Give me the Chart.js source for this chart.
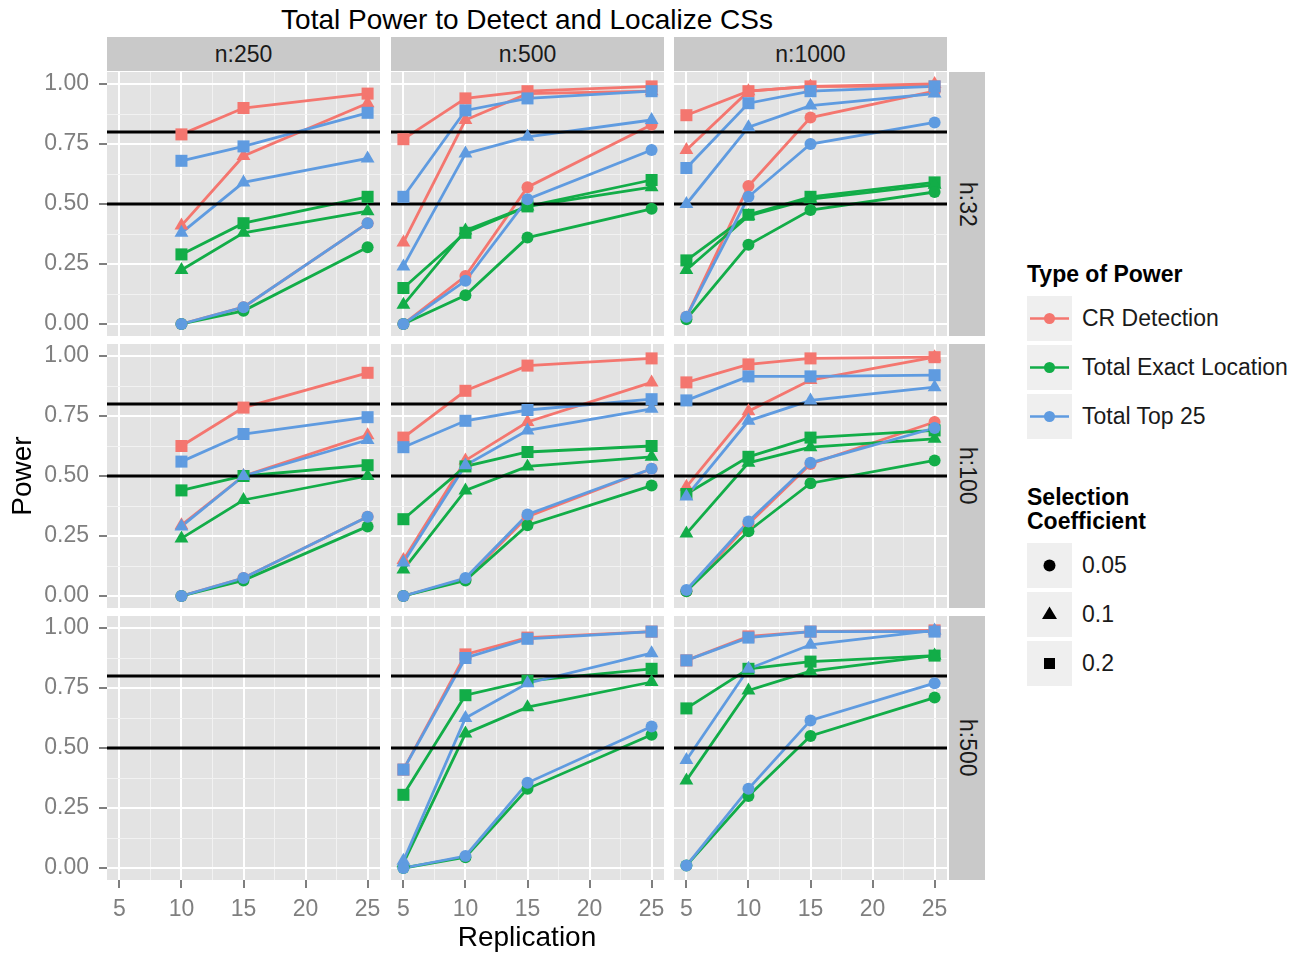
<!DOCTYPE html>
<html>
<head>
<meta charset="utf-8">
<script src="https://cdn.jsdelivr.net/npm/chart.js@4.4.0/dist/chart.umd.min.js"></script>
<style>
  body { margin: 0; background: #ffffff; }
  #root { position: relative; width: 1300px; height: 953px; overflow: hidden; background: #ffffff;
          font-family: "Liberation Sans", Arial, sans-serif; color: #000; }
  .txt { position: absolute; white-space: nowrap; }
  .strip { position: absolute; background: #C9C9C9; color: #1A1A1A; font-size: 23px;
           display: flex; align-items: center; justify-content: center; }
  .vstrip span { writing-mode: vertical-rl; }
  .key { position: absolute; width: 45px; height: 45px; background: #EFEFEF; }
  .klab { position: absolute; height: 45px; display: flex; align-items: center; font-size: 23px; color: #1A1A1A; }
  .ltitle { position: absolute; font-size: 23px; font-weight: bold; line-height: 24px; color: #000; }
</style>
</head>
<body>
<div id="root"></div>
<script>
// ---------------- data ----------------
const COLUMNS = ['n:250', 'n:500', 'n:1000'];
const ROWS = ['h:32', 'h:100', 'h:500'];
const TYPES = ['CR Detection', 'Total Exact Location', 'Total Top 25'];
const COEFS = ['0.05', '0.1', '0.2'];
const REP_N250 = [10, 15, 25];
const REP = [5, 10, 15, 25];
const X_MAJOR = [5, 10, 15, 20, 25];
const Y_MAJOR = [0, 0.25, 0.5, 0.75, 1];
const THRESHOLDS = [0.5, 0.8];

// h:32, n:250
const h32_n250_cr_05 = [0.00, 0.07, 0.42];
const h32_n250_cr_10 = [0.41, 0.70, 0.92];
const h32_n250_cr_20 = [0.79, 0.90, 0.96];
const h32_n250_ex_05 = [0.00, 0.055, 0.32];
const h32_n250_ex_10 = [0.225, 0.38, 0.47];
const h32_n250_ex_20 = [0.29, 0.42, 0.53];
const h32_n250_t25_05 = [0.00, 0.07, 0.42];
const h32_n250_t25_10 = [0.38, 0.59, 0.69];
const h32_n250_t25_20 = [0.68, 0.74, 0.88];
// h:32, n:500
const h32_n500_cr_05 = [0.00, 0.20, 0.57, 0.83];
const h32_n500_cr_10 = [0.34, 0.85, 0.96, 0.97];
const h32_n500_cr_20 = [0.77, 0.94, 0.97, 0.99];
const h32_n500_ex_05 = [0.00, 0.12, 0.36, 0.48];
const h32_n500_ex_10 = [0.08, 0.39, 0.49, 0.57];
const h32_n500_ex_20 = [0.15, 0.38, 0.49, 0.60];
const h32_n500_t25_05 = [0.00, 0.18, 0.52, 0.725];
const h32_n500_t25_10 = [0.24, 0.71, 0.78, 0.85];
const h32_n500_t25_20 = [0.53, 0.89, 0.94, 0.97];
// h:32, n:1000
const h32_n1000_cr_05 = [0.03, 0.575, 0.86, 0.97];
const h32_n1000_cr_10 = [0.725, 0.97, 0.99, 1.00];
const h32_n1000_cr_20 = [0.87, 0.97, 0.99, 0.99];
const h32_n1000_ex_05 = [0.02, 0.33, 0.475, 0.55];
const h32_n1000_ex_10 = [0.225, 0.45, 0.52, 0.58];
const h32_n1000_ex_20 = [0.265, 0.455, 0.53, 0.59];
const h32_n1000_t25_05 = [0.03, 0.53, 0.75, 0.84];
const h32_n1000_t25_10 = [0.50, 0.82, 0.91, 0.96];
const h32_n1000_t25_20 = [0.65, 0.92, 0.97, 0.99];
// h:100, n:250
const h100_n250_cr_05 = [0.00, 0.075, 0.33];
const h100_n250_cr_10 = [0.295, 0.50, 0.67];
const h100_n250_cr_20 = [0.625, 0.785, 0.93];
const h100_n250_ex_05 = [0.00, 0.065, 0.29];
const h100_n250_ex_10 = [0.24, 0.40, 0.50];
const h100_n250_ex_20 = [0.44, 0.50, 0.545];
const h100_n250_t25_05 = [0.00, 0.075, 0.33];
const h100_n250_t25_10 = [0.29, 0.50, 0.65];
const h100_n250_t25_20 = [0.56, 0.675, 0.745];
// h:100, n:500
const h100_n500_cr_05 = [0.00, 0.07, 0.33, 0.53];
const h100_n500_cr_10 = [0.15, 0.565, 0.725, 0.89];
const h100_n500_cr_20 = [0.66, 0.855, 0.96, 0.99];
const h100_n500_ex_05 = [0.00, 0.065, 0.295, 0.46];
const h100_n500_ex_10 = [0.11, 0.44, 0.54, 0.58];
const h100_n500_ex_20 = [0.32, 0.54, 0.60, 0.625];
const h100_n500_t25_05 = [0.00, 0.075, 0.34, 0.53];
const h100_n500_t25_10 = [0.14, 0.545, 0.69, 0.78];
const h100_n500_t25_20 = [0.62, 0.73, 0.775, 0.82];
// h:100, n:1000
const h100_n1000_cr_05 = [0.02, 0.30, 0.55, 0.725];
const h100_n1000_cr_10 = [0.455, 0.77, 0.90, 0.995];
const h100_n1000_cr_20 = [0.89, 0.965, 0.99, 0.995];
const h100_n1000_ex_05 = [0.02, 0.27, 0.47, 0.565];
const h100_n1000_ex_10 = [0.26, 0.555, 0.62, 0.655];
const h100_n1000_ex_20 = [0.425, 0.58, 0.66, 0.69];
const h100_n1000_t25_05 = [0.025, 0.31, 0.555, 0.70];
const h100_n1000_t25_10 = [0.415, 0.73, 0.815, 0.87];
const h100_n1000_t25_20 = [0.815, 0.915, 0.915, 0.92];
// h:500, n:500
const h500_n500_cr_20 = [0.41, 0.89, 0.96, 0.985];
const h500_n500_ex_05 = [0.00, 0.045, 0.33, 0.555];
const h500_n500_ex_10 = [0.02, 0.56, 0.67, 0.775];
const h500_n500_ex_20 = [0.305, 0.72, 0.78, 0.83];
const h500_n500_t25_05 = [0.00, 0.05, 0.355, 0.59];
const h500_n500_t25_10 = [0.03, 0.625, 0.77, 0.895];
const h500_n500_t25_20 = [0.41, 0.875, 0.955, 0.985];
// h:500, n:1000
const h500_n1000_cr_20 = [0.865, 0.965, 0.985, 0.99];
const h500_n1000_ex_05 = [0.01, 0.30, 0.55, 0.71];
const h500_n1000_ex_10 = [0.365, 0.74, 0.82, 0.885];
const h500_n1000_ex_20 = [0.665, 0.83, 0.86, 0.885];
const h500_n1000_t25_05 = [0.01, 0.33, 0.615, 0.77];
const h500_n1000_t25_10 = [0.45, 0.83, 0.93, 0.99];
const h500_n1000_t25_20 = [0.865, 0.96, 0.985, 0.985];

// table of facets built from the arrays above: [row][col] -> {x, series[type][coef]}
const PANELS = [
  [
    { x: REP_N250, s: [[h32_n250_cr_05, h32_n250_cr_10, h32_n250_cr_20], [h32_n250_ex_05, h32_n250_ex_10, h32_n250_ex_20], [h32_n250_t25_05, h32_n250_t25_10, h32_n250_t25_20]] },
    { x: REP, s: [[h32_n500_cr_05, h32_n500_cr_10, h32_n500_cr_20], [h32_n500_ex_05, h32_n500_ex_10, h32_n500_ex_20], [h32_n500_t25_05, h32_n500_t25_10, h32_n500_t25_20]] },
    { x: REP, s: [[h32_n1000_cr_05, h32_n1000_cr_10, h32_n1000_cr_20], [h32_n1000_ex_05, h32_n1000_ex_10, h32_n1000_ex_20], [h32_n1000_t25_05, h32_n1000_t25_10, h32_n1000_t25_20]] }
  ],
  [
    { x: REP_N250, s: [[h100_n250_cr_05, h100_n250_cr_10, h100_n250_cr_20], [h100_n250_ex_05, h100_n250_ex_10, h100_n250_ex_20], [h100_n250_t25_05, h100_n250_t25_10, h100_n250_t25_20]] },
    { x: REP, s: [[h100_n500_cr_05, h100_n500_cr_10, h100_n500_cr_20], [h100_n500_ex_05, h100_n500_ex_10, h100_n500_ex_20], [h100_n500_t25_05, h100_n500_t25_10, h100_n500_t25_20]] },
    { x: REP, s: [[h100_n1000_cr_05, h100_n1000_cr_10, h100_n1000_cr_20], [h100_n1000_ex_05, h100_n1000_ex_10, h100_n1000_ex_20], [h100_n1000_t25_05, h100_n1000_t25_10, h100_n1000_t25_20]] }
  ],
  [
    { x: REP_N250, s: [[null, null, null], [null, null, null], [null, null, null]] },
    { x: REP, s: [[null, null, h500_n500_cr_20], [h500_n500_ex_05, h500_n500_ex_10, h500_n500_ex_20], [h500_n500_t25_05, h500_n500_t25_10, h500_n500_t25_20]] },
    { x: REP, s: [[null, null, h500_n1000_cr_20], [h500_n1000_ex_05, h500_n1000_ex_10, h500_n1000_ex_20], [h500_n1000_t25_05, h500_n1000_t25_10, h500_n1000_t25_20]] }
  ]
];

// ---------------- styles / layout ----------------
const TYPE_COLORS = ['#F4766F', '#12AD48', '#5F9BE0'];
const COEF_STYLE = [
  { style: 'circle', r: 6 },
  { style: 'triangle', r: 8 },
  { style: 'rect', r: 8.5 }
];
const PANEL_LEFT = [107, 391, 674];
const PANEL_TOP = [72, 344, 616];
const PANEL_W = 273, PANEL_H = 264;
const X_AXIS_H = 46;
const PANEL_BG = '#E3E3E3';
const TICK_COLOR = '#7F7F7F';
const FONT = "'Liberation Sans', Arial, sans-serif";

Chart.defaults.font.family = FONT;

const root = document.getElementById('root');

function addDiv(cls, css, html) {
  const d = document.createElement('div');
  d.className = cls;
  d.style.cssText = css;
  d.innerHTML = html;
  root.appendChild(d);
  return d;
}

// grid tick positions (major + minor midpoints)
function withMinor(major) {
  const out = [];
  for (let i = 0; i < major.length; i++) {
    out.push(major[i]);
    if (i < major.length - 1) out.push((major[i] + major[i + 1]) / 2);
  }
  return out;
}
const X_TICKS = withMinor(X_MAJOR);
const Y_TICKS = withMinor(Y_MAJOR);
const isMajorX = v => X_MAJOR.some(m => Math.abs(m - v) < 1e-9);
const isMajorY = v => Y_MAJOR.some(m => Math.abs(m - v) < 1e-9);

const bgPlugin = {
  id: 'panelBg',
  beforeDraw(chart) {
    const a = chart.chartArea, ctx = chart.ctx;
    ctx.save();
    ctx.fillStyle = PANEL_BG;
    ctx.fillRect(a.left, a.top, a.right - a.left, a.bottom - a.top);
    ctx.restore();
  }
};

function drawThresholds(chart) {
  const a = chart.chartArea, ctx = chart.ctx, ys = chart.scales.y;
  ctx.save();
  ctx.beginPath();
  ctx.rect(a.left, a.top, a.right - a.left, a.bottom - a.top);
  ctx.clip();
  ctx.strokeStyle = '#000000';
  ctx.lineWidth = 2.8;
  THRESHOLDS.forEach(v => {
    const y = ys.getPixelForValue(v);
    ctx.beginPath();
    ctx.moveTo(a.left, y);
    ctx.lineTo(a.right, y);
    ctx.stroke();
  });
  ctx.restore();
}

const hlinePlugin = {
  id: 'thresholds',
  beforeDatasetsDraw(chart) { chart.$hlDone = false; },
  beforeDatasetDraw(chart, args) {
    const ds = chart.data.datasets[args.index];
    if (!chart.$hlDone && ds && ds.isPoints) { drawThresholds(chart); chart.$hlDone = true; }
  },
  afterDatasetsDraw(chart) {
    if (!chart.$hlDone) { drawThresholds(chart); chart.$hlDone = true; }
  }
};

function makePanel(r, c) {
  const panel = PANELS[r][c];
  const isLeft = c === 0, isBottom = r === 2;
  const yW = isLeft ? PANEL_LEFT[0] : 0;
  const xH = isBottom ? X_AXIS_H : 0;
  const left = isLeft ? 0 : PANEL_LEFT[c];
  const w = PANEL_W + yW, h = PANEL_H + xH;
  const cv = document.createElement('canvas');
  cv.width = w; cv.height = h;
  cv.style.cssText = `position:absolute;left:${left}px;top:${PANEL_TOP[r]}px;width:${w}px;height:${h}px;`;
  root.appendChild(cv);

  const datasets = [];
  panel.s.forEach((typeSeries, ti) => {
    typeSeries.forEach((vals, ci) => {
      if (!vals) return;
      const pts = panel.x.map((x, i) => ({ x: x, y: vals[i] }));
      datasets.push({
        label: TYPES[ti] + ' ' + COEFS[ci] + ' line',
        data: pts,
        showLine: true,
        borderColor: TYPE_COLORS[ti],
        borderWidth: 2.8,
        pointRadius: 0,
        tension: 0,
        fill: false,
        order: 13 - ti
      });
    });
  });
  panel.s.forEach((typeSeries, ti) => {
    typeSeries.forEach((vals, ci) => {
      if (!vals) return;
      const pts = panel.x.map((x, i) => ({ x: x, y: vals[i] }));
      datasets.push({
        label: TYPES[ti] + ' ' + COEFS[ci],
        isPoints: true,
        data: pts,
        showLine: false,
        pointStyle: COEF_STYLE[ci].style,
        pointRadius: COEF_STYLE[ci].r,
        pointBackgroundColor: TYPE_COLORS[ti],
        pointBorderWidth: 0,
        borderWidth: 0,
        order: 3 - ti
      });
    });
  });

  new Chart(cv, {
    type: 'scatter',
    data: { datasets: datasets },
    plugins: [bgPlugin, hlinePlugin],
    options: {
      responsive: false,
      animation: false,
      devicePixelRatio: 1,
      events: [],
      layout: { padding: 0, autoPadding: false },
      plugins: { legend: { display: false }, tooltip: { enabled: false }, title: { display: false } },
      scales: {
        x: {
          type: 'linear', min: 4, max: 26,
          afterBuildTicks: s => { s.ticks = X_TICKS.map(v => ({ value: v })); },
          afterFit: s => { s.height = xH; s.paddingLeft = 0; s.paddingRight = 0; },
          border: { display: false },
          grid: {
            color: ctx => isMajorX(ctx.tick.value) ? '#FFFFFF' : '#F2F2F2',
            lineWidth: ctx => isMajorX(ctx.tick.value) ? 2 : 1,
            drawTicks: isBottom, tickLength: 8, tickWidth: 2,
            tickColor: ctx => isMajorX(ctx.tick.value) ? TICK_COLOR : 'rgba(0,0,0,0)'
          },
          ticks: {
            display: isBottom, autoSkip: false, maxRotation: 0, minRotation: 0, padding: 8,
            color: TICK_COLOR, font: { size: 23, family: FONT },
            callback: v => isMajorX(v) ? String(v) : ''
          }
        },
        y: {
          type: 'linear', min: -0.05, max: 1.05,
          afterBuildTicks: s => { s.ticks = Y_TICKS.map(v => ({ value: v })); },
          afterFit: s => { s.width = yW; s.paddingTop = 0; s.paddingBottom = 0; },
          border: { display: false },
          grid: {
            color: ctx => isMajorY(ctx.tick.value) ? '#FFFFFF' : '#F2F2F2',
            lineWidth: ctx => isMajorY(ctx.tick.value) ? 2 : 1,
            drawTicks: isLeft, tickLength: 8, tickWidth: 2,
            tickColor: ctx => isMajorY(ctx.tick.value) ? TICK_COLOR : 'rgba(0,0,0,0)'
          },
          ticks: {
            display: isLeft, autoSkip: false, padding: 10,
            color: TICK_COLOR, font: { size: 23, family: FONT },
            callback: v => isMajorY(v) ? v.toFixed(2) : ''
          }
        }
      }
    }
  });
}

for (let r = 0; r < 3; r++) for (let c = 0; c < 3; c++) makePanel(r, c);

// strips
COLUMNS.forEach((lab, c) => {
  addDiv('strip', `left:${PANEL_LEFT[c]}px;top:37px;width:${PANEL_W}px;height:34px;`, lab);
});
ROWS.forEach((lab, r) => {
  addDiv('strip vstrip', `left:949px;top:${PANEL_TOP[r]}px;width:36px;height:${PANEL_H}px;`, '<span>' + lab + '</span>');
});

// titles
addDiv('txt', `left:${PANEL_LEFT[0]}px;width:${PANEL_LEFT[2] + PANEL_W - PANEL_LEFT[0]}px;top:4px;text-align:center;font-size:28px;line-height:32px;`,
  'Total Power to Detect and Localize CSs');
addDiv('txt', `left:${PANEL_LEFT[0]}px;width:${PANEL_LEFT[2] + PANEL_W - PANEL_LEFT[0]}px;top:921px;text-align:center;font-size:28px;line-height:32px;`,
  'Replication');
addDiv('txt', `left:-28px;top:460px;width:100px;height:32px;text-align:center;font-size:28px;line-height:32px;transform:rotate(-90deg);`,
  'Power');

// legend
addDiv('ltitle', 'left:1027px;top:262px;', 'Type of Power');
const typeKeyTops = [296, 345, 394];
TYPES.forEach((t, i) => {
  const col = TYPE_COLORS[i];
  addDiv('key', `left:1027px;top:${typeKeyTops[i]}px;`,
    `<svg width="45" height="45"><line x1="3" y1="22.5" x2="42" y2="22.5" stroke="${col}" stroke-width="2.5"/><circle cx="22.5" cy="22.5" r="5.5" fill="${col}"/></svg>`);
  addDiv('klab', `left:1082px;top:${typeKeyTops[i]}px;`, t);
});
addDiv('ltitle', 'left:1027px;top:485px;', 'Selection<br>Coefficient');
const coefKeyTops = [543, 592, 641];
const coefSvgs = [
  '<circle cx="22.5" cy="22.5" r="6" fill="#000"/>',
  '<polygon points="22.5,14.5 30,27 15,27" fill="#000"/>',
  '<rect x="17" y="17" width="11" height="11" fill="#000"/>'
];
COEFS.forEach((c, i) => {
  addDiv('key', `left:1027px;top:${coefKeyTops[i]}px;`, `<svg width="45" height="45">${coefSvgs[i]}</svg>`);
  addDiv('klab', `left:1082px;top:${coefKeyTops[i]}px;`, c);
});
</script>
</body>
</html>
